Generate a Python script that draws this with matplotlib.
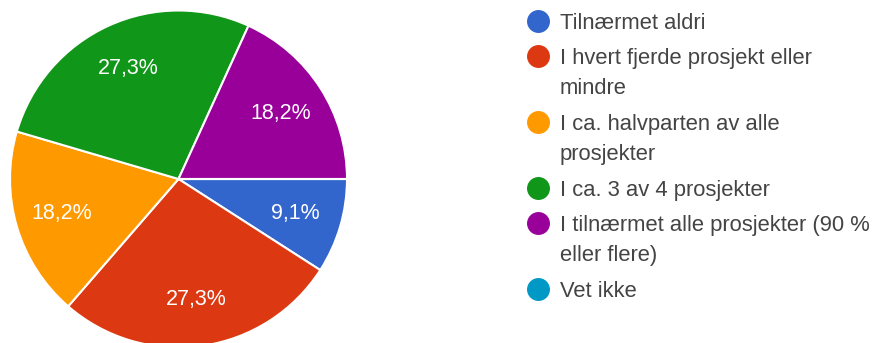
import matplotlib.pyplot as plt

# svar fra skjemaet (prosent)
labels = ["Tilnærmet aldri",
          "I hvert fjerde prosjekt eller\nmindre",
          "I ca. halvparten av alle\nprosjekter",
          "I ca. 3 av 4 prosjekter",
          "I tilnærmet alle prosjekter (90 %\neller flere)",
          "Vet ikke"]
values = [9.1, 27.3, 18.2, 27.3, 18.2, 0]
colors = ["#3366cc", "#dc3912", "#ff9900", "#109618", "#990099", "#0099c6"]

plt.rcParams['font.family'] = ['Liberation Sans', 'DejaVu Sans']

W, H = 877, 343
fig = plt.figure(figsize=(W / 100, H / 100), dpi=100)

# kakediagram
cx, cy, r = 178.5, 164, 168.5
ax = fig.add_axes([(cx - r) / W, (cy - r) / H, 2 * r / W, 2 * r / H])


def pct(p):
    if p < 0.5:
        return ""
    return ("%.1f%%" % p).replace(".", ",")


ax.pie(values, colors=colors, startangle=0, counterclock=False,
       autopct=pct, pctdistance=0.72, radius=1,
       wedgeprops=dict(edgecolor="white", linewidth=1.5),
       textprops=dict(color="white", fontsize=15.5))
ax.set_xlim(-1, 1)
ax.set_ylim(-1, 1)
ax.set_aspect("equal")
ax.axis("off")

# forklaring
line_h = 31
gap = 35
y = 21
for lab, col in zip(labels, colors):
    fig.add_artist(plt.Line2D([538 / W], [1 - y / H], marker="o", markersize=15.5,
                              color=col, linestyle="none", transform=fig.transFigure))
    fig.text(560 / W, 1 - (y - 8) / H, lab, fontsize=15.8, color="#444444",
             va="top", ha="left", linespacing=1.55)
    y += gap + line_h * lab.count("\n")

fig.savefig("out.png", dpi=100)
